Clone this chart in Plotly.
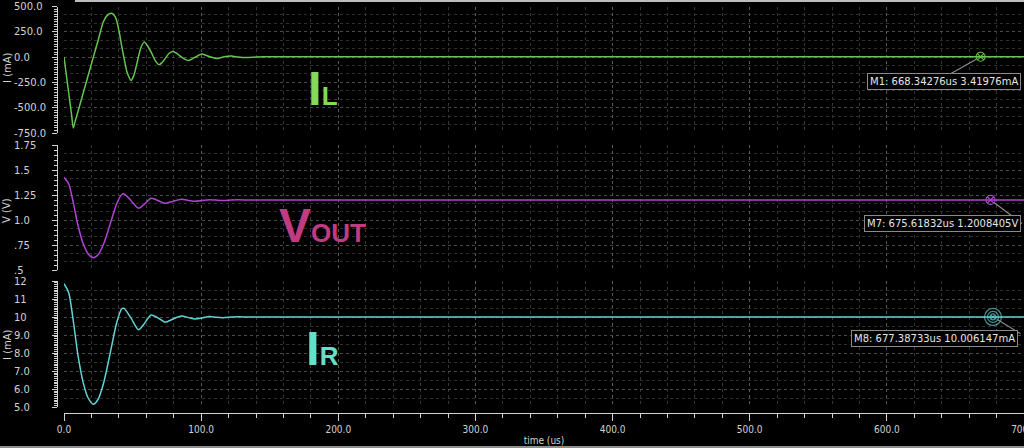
import plotly.graph_objects as go

W, H = 1024, 448

# ---------------- data ----------------
t_il = [0, 3.4, 5.5, 6.8, 8.2, 10, 14, 17.5, 21.4, 25, 28.7, 31.5, 34.8, 37.5, 40, 42.1,
        44, 46, 48.9, 51, 53.5, 56, 58.4, 61, 64, 66.5, 69.3, 71.5, 74, 76.5, 79.2,
        82, 85, 88, 90.8, 95.5, 100.5, 106, 111, 116, 122, 127, 133, 140, 145, 700]
il_ma = [0, -350, -567, -700, -633, -547, -355, -187, 0, 172, 350, 412, 434, 395, 265, 105,
         -25, -150, -230, -178, -43, 90, 148, 110, 36, -35, -75, -55, -10, 35, 56,
         40, 7, -20, -33, -2, 30, 5, -14, 0, 10, 0, -5, 2, 4, 3.42]

t_v = [0, 3.4, 6.8, 10, 14, 17.5, 21.4, 25, 28.7, 31.5, 34.8, 38.5, 42.1, 43.8, 48.9,
       54.3, 58.4, 63.5, 69.3, 73.7, 79.2, 85.5, 90.8, 95.5, 100.5, 106, 111, 116,
       122, 127, 135, 145, 700]
vout_v = [1.427, 1.363, 1.172, 0.958, 0.764, 0.663, 0.623, 0.655, 0.755, 0.865, 1.01,
          1.165, 1.255, 1.263, 1.193, 1.117, 1.155, 1.217, 1.19, 1.167, 1.186, 1.207,
          1.196, 1.187, 1.194, 1.203, 1.199, 1.196, 1.2, 1.202, 1.2, 1.2008, 1.2008]
ir_ma = [11.85, 11.36, 9.77, 7.98, 6.37, 5.53, 5.17, 5.46, 6.29, 7.21, 8.42, 9.71, 10.46,
         10.48, 9.94, 9.3, 9.62, 10.12, 9.92, 9.72, 9.88, 10.06, 9.97, 9.89, 9.95, 10.03,
         9.99, 9.97, 10.0, 10.02, 10.0, 10.006, 10.006]

marker_t = [668.34276, 675.61832, 677.38733]
marker_val = [3.41976, 1.2008405, 10.006147]
marker_text = ["M1: 668.34276us 3.41976mA",
               "M7: 675.61832us 1.2008405V",
               "M8: 677.38733us 10.006147mA"]

il_tickvals = [-750, -500, -250, 0, 250, 500]
il_ticktext = ["-750.0", "-500.0", "-250.0", "0.0", "250.0", "500.0"]
v_tickvals = [0.5, 0.75, 1.0, 1.25, 1.5, 1.75]
v_ticktext = [".5", ".75", "1.0", "1.25", "1.5", "1.75"]
ir_tickvals = [5, 6, 7, 8, 9, 10, 11, 12]
ir_ticktext = ["5.0", "6.0", "7.0", "8.0", "9.0", "10", "11", "12"]

# ---------------- styling ----------------
C_IL = "#66c450"
C_V = "#b044d4"
C_IR = "#62d4d4"
AX = "#d2d2d2"
GRID_MAJ = "#4a4a4a"
GRID_MIN = "#2e2e2e"
FONT = "DejaVu Sans"


def py(p):
    return 1 - p / H


def px(p):
    return p / W


fig = go.Figure()

fig.add_trace(go.Scatter(x=t_il, y=il_ma, mode="lines", xaxis="x", yaxis="y",
                         line=dict(color=C_IL, width=1.5, shape="spline", smoothing=0.7)))
fig.add_trace(go.Scatter(x=t_v, y=vout_v, mode="lines", xaxis="x2", yaxis="y2",
                         line=dict(color=C_V, width=1.5, shape="spline", smoothing=0.7)))
fig.add_trace(go.Scatter(x=t_v, y=ir_ma, mode="lines", xaxis="x3", yaxis="y3",
                         line=dict(color=C_IR, width=1.5, shape="spline", smoothing=0.7)))

# markers
fig.add_trace(go.Scatter(x=[marker_t[0]], y=[marker_val[0]], mode="markers", xaxis="x", yaxis="y",
                         marker=dict(symbol="circle-x-open", size=9, color=C_IL, line=dict(width=1.2))))
fig.add_trace(go.Scatter(x=[marker_t[1]], y=[marker_val[1]], mode="markers", xaxis="x2", yaxis="y2",
                         marker=dict(symbol="circle-x-open", size=9, color=C_V, line=dict(width=1.2))))
fig.add_trace(go.Scatter(x=[marker_t[2]] * 3, y=[marker_val[2]] * 3, mode="markers", xaxis="x3", yaxis="y3",
                         marker=dict(symbol=["circle-x-open", "circle-open", "circle-open"],
                                     size=[6, 11, 17], color=C_IR, line=dict(width=1.2))))

panels = [
    dict(dom=[1 - 133 / H, 1 - 6.5 / H], rng=[-750, 500], t0=-750, dt=250, gmin=250 / 3, tmin=25,
         tv=il_tickvals, tt=il_ticktext),
    dict(dom=[1 - 270 / H, 1 - 145 / H], rng=[0.5, 1.75], t0=0.5, dt=0.25, gmin=0.25 / 3, tmin=0.05,
         tv=v_tickvals, tt=v_ticktext),
    dict(dom=[1 - 407.3 / H, 1 - 281 / H], rng=[5, 12], t0=5, dt=1, gmin=0.5, tmin=0.1,
         tv=ir_tickvals, tt=ir_ticktext),
]

layout = dict(
    width=W, height=H, margin=dict(l=0, r=0, t=0, b=0, autoexpand=False),
    paper_bgcolor="black", plot_bgcolor="black", showlegend=False,
    font=dict(family=FONT, size=10, color=AX),
)

for i in range(3):
    n = "" if i == 0 else str(i + 1)
    xa = dict(domain=[64 / W, 1], range=[0, 700], anchor="y" + n, zeroline=False, automargin=False,
              showgrid=True, gridcolor="#5a5a5a", griddash="dot", gridwidth=1,
              tick0=0, dtick=100, showline=False, ticks="", showticklabels=False,
              minor=dict(tick0=0, dtick=20, showgrid=True, gridcolor="#363636", griddash="dot"))
    if i > 0:
        xa["matches"] = "x"
    if i == 2:
        xa.update(anchor="free", position=1 - 413 / H, showline=True, linecolor=AX, linewidth=1,
                  ticks="outside", ticklen=7, tickcolor=AX, showticklabels=True, tickformat=".1f",
                  ticklabeloverflow="allow",
                  tickfont=dict(family="DejaVu Sans Condensed, DejaVu Sans", size=10, color=AX),
                  title=dict(text="time (us)", standoff=2,
                             font=dict(family="DejaVu Sans Condensed, DejaVu Sans", size=10, color=AX)))
        xa["minor"].update(ticks="outside", ticklen=4, tickcolor=AX)
    layout["xaxis" + n] = xa

    p = panels[i]
    layout["yaxis" + n] = dict(domain=p["dom"], range=p["rng"], anchor="x" + n, zeroline=False,
                               automargin=False,
                               showgrid=True, gridcolor=GRID_MAJ, griddash="dot", tick0=p["t0"],
                               dtick=p["dt"], ticks="", showticklabels=False, showline=False,
                               minor=dict(tick0=p["t0"], dtick=p["gmin"], showgrid=True,
                                          gridcolor=GRID_MIN, griddash="dot"))
    # tick axis (line + ticks) at x=57px
    tn = str(i + 4)
    layout["yaxis" + tn] = dict(overlaying="y" + n if n else "y", range=p["rng"], anchor="free",
                                position=57 / W, side="left", showgrid=False, zeroline=False,
                                automargin=False,
                                showline=True, linecolor=AX, linewidth=1, ticks="outside", ticklen=5,
                                tickcolor=AX, tick0=p["t0"], dtick=p["dt"], showticklabels=False,
                                minor=dict(ticks="outside", ticklen=3, tick0=p["t0"], dtick=p["tmin"],
                                           tickcolor=AX, showgrid=False))
    # label axis (left-aligned labels) at x=13px
    ln = str(i + 7)
    layout["yaxis" + ln] = dict(overlaying="y" + n if n else "y", range=p["rng"], anchor="free",
                                position=13 / W, side="right", showgrid=False, zeroline=False,
                                automargin=False,
                                showline=False, ticks="", tickmode="array", tickvals=p["tv"],
                                ticktext=p["tt"], showticklabels=True,
                                tickfont=dict(family=FONT, size=10, color=AX))
    # invisible helpers so the overlay axes belong to this panel
    for an in (tn, ln):
        fig.add_trace(go.Scatter(x=[0], y=[p["rng"][0]], mode="markers", xaxis="x" + n, yaxis="y" + an,
                                 marker=dict(opacity=0, size=1), hoverinfo="skip"))

annotations = []
# y-axis titles
for txt, yc in [("I (mA)", 68), ("V (V)", 211), ("I (mA)", 345)]:
    annotations.append(dict(text=txt, xref="paper", yref="paper", x=px(7), y=py(yc),
                            xanchor="center", yanchor="middle",
                            textangle=-90, showarrow=False, font=dict(size=10, color=AX, family=FONT)))

# big signal labels
BIG = "Liberation Sans, Arial, sans-serif"
annotations.append(dict(text="<b>I<span style='font-size:26px'>L</span></b>", xref="paper", yref="paper",
                        x=px(323), y=py(88), xanchor="center", yanchor="middle",
                        showarrow=False, font=dict(size=49, color="#84d85a", family=BIG)))
annotations.append(dict(text="<b>V<span style='font-size:26px'>OUT</span></b>", xref="paper", yref="paper",
                        x=px(322), y=py(225), xanchor="center", yanchor="middle",
                        showarrow=False, font=dict(size=48, color="#c03c82", family=BIG)))
annotations.append(dict(text="<b>I<span style='font-size:26px'>R</span></b>", xref="paper", yref="paper",
                        x=px(322), y=py(348), xanchor="center", yanchor="middle",
                        showarrow=False, font=dict(size=49, color="#62e0c8", family=BIG)))

# marker readouts
box_shift = [(-37, -25), (-48, -24), (-58, -22)]
arrow_off = [(-30, 17), (32, 24), (28, 17)]
axes_ref = [("x", "y"), ("x2", "y2"), ("x3", "y3")]
for k in range(3):
    xr, yr = axes_ref[k]
    annotations.append(dict(text=" ", xref=xr, yref=yr, x=marker_t[k], y=marker_val[k],
                            showarrow=True, arrowhead=0, arrowwidth=1.2, arrowcolor="#8c8c8c",
                            ax=arrow_off[k][0], ay=arrow_off[k][1], standoff=5,
                            font=dict(size=1), borderpad=0))
    annotations.append(dict(text=marker_text[k], xref=xr, yref=yr, x=marker_t[k], y=marker_val[k],
                            showarrow=False, xshift=box_shift[k][0], yshift=box_shift[k][1],
                            xanchor="center", yanchor="middle",
                            bgcolor="black", bordercolor="#8a8a8a", borderwidth=1, borderpad=2,
                            font=dict(size=10, color="#e6e6e6", family=FONT)))

layout["annotations"] = annotations
layout["shapes"] = [
    dict(type="rect", xref="paper", yref="paper", x0=px(75), x1=1, y0=py(2), y1=1,
         fillcolor="#bdbdbd", line=dict(width=0), layer="above"),
    dict(type="rect", xref="paper", yref="paper", x0=0, x1=1, y0=0, y1=1 - 446 / H,
         fillcolor="#8e8e8e", line=dict(width=0), layer="above"),
]

fig.update_layout(**layout)
fig.write_html("out.html")
